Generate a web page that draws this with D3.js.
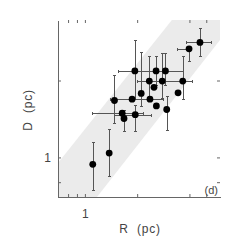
<!DOCTYPE html>
<html>
<head>
<meta charset="utf-8">
<script src="https://cdn.jsdelivr.net/npm/d3@7"></script>
<style>
  body { margin: 0; background: #fff; }
  svg text { font-family: "Liberation Sans", Arial, sans-serif; fill: #444; }
</style>
</head>
<body>
<svg id="chart" width="245" height="245"></svg>
<script>
// values (pc)
const R    = [1.11, 1.38, 1.48, 1.64, 1.68, 1.87, 1.94, 1.95, 2.11, 2.35, 2.37, 2.50, 2.57, 2.58, 2.79, 2.91, 2.96, 3.44, 3.66, 3.98, 4.60];
const D    = [0.94, 1.04, 1.67, 1.49, 1.42, 1.69, 2.18, 1.47, 1.78, 1.99, 1.69, 1.88, 2.18, 1.59, 1.99, 2.18, 1.54, 1.79, 1.99, 2.66, 2.82];
const rLo  = [null, null, null, 1.10, null, 1.41, null, 1.49, null, null, null, null, 1.56, null, 2.00, null, null, null, null, 3.41, 3.86];
const rHi  = [null, null, null, 2.17, null, 2.83, null, 2.43, null, null, null, null, 3.69, null, 4.18, null, null, null, null, 4.05, 5.38];
const dLo  = [0.74, 0.84, 1.36, null, 1.26, null, 1.68, 1.26, 1.58, 1.73, null, null, 1.92, null, 1.70, 1.92, 1.28, null, 1.68, 2.37, 2.48];
const dHi  = [1.14, 1.29, 2.10, null, 1.52, null, 2.88, 1.60, 2.57, 2.48, null, null, 2.48, null, 2.56, 2.56, 1.73, null, 2.48, 2.66, 3.20];

// shaded band (upper edge, then lower edge), in data units
const bandR = [0.7, 3.17, 6.0, 6.0, 1.174, 0.7];
const bandD = [0.95, 3.45, 3.45, 2.88, 0.7, 0.7];

const xTicks = [0.8, 0.9, 1, 2, 4, 5];
const yTicks = [0.8, 1, 2];

const mLeft = 58, mRight = 220, mTop = 20, mBottom = 197;

const svg = d3.select('#chart');

const x = d3.scaleLog().domain([0.7, 6.0]).range([mLeft, mRight]);
const y = d3.scaleLog().domain([0.7, 3.45]).range([mBottom, mTop]);

svg.append('clipPath').attr('id', 'clip')
  .append('rect')
  .attr('x', mLeft).attr('y', mTop)
  .attr('width', mRight - mLeft).attr('height', mBottom - mTop);

const plot = svg.append('g').attr('clip-path', 'url(#clip)');

plot.append('path')
  .datum(bandR.map((r, i) => [r, bandD[i]]))
  .attr('fill', '#ebebeb')
  .attr('d', d3.line().x(d => x(d[0])).y(d => y(d[1])).curve(d3.curveLinearClosed));

const pts = R.map((r, i) => ({ r, d: D[i], rLo: rLo[i], rHi: rHi[i], dLo: dLo[i], dHi: dHi[i] }));

const bars = plot.append('g')
  .attr('stroke', '#555')
  .attr('stroke-width', 1)
  .attr('shape-rendering', 'crispEdges');

pts.filter(p => p.rLo != null).forEach(p => {
  const yy = Math.round(y(p.d)) + 0.5;
  bars.append('line').attr('x1', x(p.rLo)).attr('x2', x(p.rHi)).attr('y1', yy).attr('y2', yy);
  [p.rLo, p.rHi].forEach(v => {
    bars.append('line').attr('x1', x(v)).attr('x2', x(v)).attr('y1', yy - 1.5).attr('y2', yy + 1.5);
  });
});

pts.filter(p => p.dLo != null).forEach(p => {
  const xx = Math.round(x(p.r)) + 0.5;
  bars.append('line').attr('x1', xx).attr('x2', xx).attr('y1', y(p.dLo)).attr('y2', y(p.dHi));
  [p.dLo, p.dHi].forEach(v => {
    bars.append('line').attr('x1', xx - 1.5).attr('x2', xx + 1.5).attr('y1', y(v)).attr('y2', y(v));
  });
});

plot.append('g').selectAll('circle')
  .data(pts)
  .join('circle')
  .attr('cx', p => x(p.r))
  .attr('cy', p => y(p.d))
  .attr('r', 3.4)
  .attr('fill', '#000');

// axes
const fmt = d => (d === 1 ? '1' : '');

const styleAxis = g => {
  g.selectAll('line').attr('stroke', '#666');
  g.selectAll('path.domain').attr('stroke', '#666');
  g.selectAll('text').attr('font-size', 12).attr('fill', '#444');
};

svg.append('g')
  .attr('transform', `translate(0,${mBottom})`)
  .call(d3.axisBottom(x).tickValues(xTicks).tickSize(-3).tickSizeOuter(0).tickPadding(12).tickFormat(fmt))
  .call(styleAxis);

svg.append('g')
  .attr('transform', `translate(0,${mTop})`)
  .call(d3.axisTop(x).tickValues(xTicks).tickSize(-3).tickFormat(''))
  .call(g => g.select('.domain').remove())
  .call(styleAxis);

svg.append('g')
  .attr('transform', `translate(${mLeft},0)`)
  .call(d3.axisLeft(y).tickValues(yTicks).tickSize(-3).tickSizeOuter(0).tickPadding(7).tickFormat(fmt))
  .call(styleAxis);

svg.append('g')
  .attr('transform', `translate(${mRight},0)`)
  .call(d3.axisRight(y).tickValues(yTicks).tickSize(-3).tickFormat(''))
  .call(g => g.select('.domain').remove())
  .call(styleAxis);

svg.selectAll('.domain').attr('shape-rendering', 'crispEdges');

svg.append('text')
  .attr('x', 140).attr('y', 233)
  .attr('text-anchor', 'middle')
  .attr('font-size', 12)
  .style('letter-spacing', '0.8px')
  .style('white-space', 'pre')
  .text('R  (pc)');

svg.append('text')
  .attr('transform', 'translate(32,110) rotate(-90)')
  .attr('text-anchor', 'middle')
  .attr('font-size', 12)
  .style('letter-spacing', '0.8px')
  .style('white-space', 'pre')
  .text('D  (pc)');

svg.append('text')
  .attr('x', 218).attr('y', 194)
  .attr('text-anchor', 'end')
  .attr('font-size', 11)
  .text('(d)');
</script>
</body>
</html>
